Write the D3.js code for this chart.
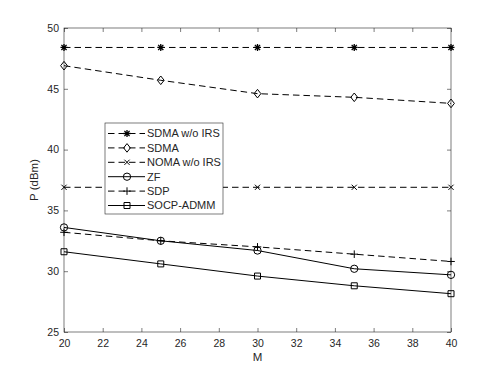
<!DOCTYPE html>
<html>
<head>
<meta charset="utf-8">
<script src="https://cdn.jsdelivr.net/npm/d3@7"></script>
<style>
  body { margin: 0; background: #fff; }
  text { font-family: "Liberation Sans", Arial, sans-serif; fill: #262626; }
</style>
</head>
<body>
<div id="chart"></div>
<script>
// values
const M = [20, 25, 30, 35, 40];
const sdmaNoIrs = [48.4, 48.4, 48.4, 48.4, 48.4];
const sdma = [46.9, 45.7, 44.6, 44.3, 43.8];
const nomaNoIrs = [36.9, 36.9, 36.9, 36.9, 36.9];
const zf = [33.6, 32.5, 31.7, 30.2, 29.7];
const sdp = [33.2, 32.5, 32.0, 31.4, 30.8];
const socpAdmm = [31.6, 30.6, 29.6, 28.8, 28.15];

const seriesNames = ["SDMA w/o IRS", "SDMA", "NOMA w/o IRS", "ZF", "SDP", "SOCP-ADMM"];
const seriesValues = [sdmaNoIrs, sdma, nomaNoIrs, zf, sdp, socpAdmm];
const seriesMarkers = ["asterisk", "diamond", "x", "circle", "plus", "square"];
const seriesDashed = [true, true, true, false, true, false];

const xTicks = [20, 22, 24, 26, 28, 30, 32, 34, 36, 38, 40];
const yTicks = [25, 30, 35, 40, 45, 50];

var width = 498, height = 374;
// plot box (window.top is reserved, so no bare "top")
var plotL = 64, plotR = 451, plotT = 28, plotB = 332;

var svg = d3.select("#chart").append("svg")
  .attr("width", width)
  .attr("height", height);

var x = d3.scaleLinear().domain([20, 40]).range([plotL, plotR]);
var y = d3.scaleLinear().domain([25, 50]).range([plotB, plotT]);

// axes, MATLAB style: ticks inside, box on
function styleAxis(g) {
  g.select(".domain").remove();
  g.selectAll(".tick line").attr("stroke", "#262626").attr("stroke-width", 0.6);
  g.selectAll(".tick text").style("font-size", "10.5px").attr("fill", "#262626");
}

svg.append("g")
  .attr("transform", "translate(0," + plotB + ")")
  .call(d3.axisBottom(x).tickValues(xTicks).tickSize(-4).tickPadding(8))
  .call(styleAxis);
svg.append("g")
  .attr("transform", "translate(0," + plotT + ")")
  .call(d3.axisTop(x).tickValues(xTicks).tickSize(-4).tickFormat(""))
  .call(styleAxis);
svg.append("g")
  .attr("transform", "translate(" + plotL + ",0)")
  .call(d3.axisLeft(y).tickValues(yTicks).tickSize(-4).tickPadding(5))
  .call(styleAxis);
svg.append("g")
  .attr("transform", "translate(" + plotR + ",0)")
  .call(d3.axisRight(y).tickValues(yTicks).tickSize(-4).tickFormat(""))
  .call(styleAxis);

svg.append("rect")
  .attr("x", plotL).attr("y", plotT)
  .attr("width", plotR - plotL).attr("height", plotB - plotT)
  .attr("fill", "none").attr("stroke", "#262626").attr("stroke-width", 0.6);

svg.append("text")
  .attr("x", (plotL + plotR) / 2).attr("y", 361)
  .attr("text-anchor", "middle")
  .style("font-size", "11.5px")
  .text("M");
svg.append("text")
  .attr("transform", "translate(38," + ((plotT + plotB) / 2) + ") rotate(-90)")
  .attr("text-anchor", "middle")
  .style("font-size", "11.5px")
  .text("P (dBm)");

// marker paths centred on 0,0
function markerPath(type) {
  if (type == "circle") return d3.symbol(d3.symbolCircle, 42)();
  if (type == "square") return "M-3,-3H3V3H-3Z";
  if (type == "diamond") return "M0,-4.3L3.4,0L0,4.3L-3.4,0Z";
  if (type == "plus") return "M-3.8,0H3.8M0,-3.8V3.8";
  if (type == "x") return "M-2.6,-2.6L2.6,2.6M-2.6,2.6L2.6,-2.6";
  if (type == "asterisk") return "M-3.5,0H3.5M0,-3.5V3.5M-2.6,-2.6L2.6,2.6M-2.6,2.6L2.6,-2.6";
}

function drawMarker(g, type, cx, cy) {
  g.append("path")
    .attr("d", markerPath(type))
    .attr("transform", "translate(" + cx + "," + cy + ")")
    .attr("fill", "none")
    .attr("stroke", "#000")
    .attr("stroke-width", type == "asterisk" ? 1.3 : 1);
}

var line = d3.line()
  .x(function(d, i) { return x(M[i]); })
  .y(function(d) { return y(d); });

seriesValues.forEach(function(vals, s) {
  var g = svg.append("g");
  g.append("path")
    .attr("d", line(vals))
    .attr("fill", "none")
    .attr("stroke", "#000")
    .attr("stroke-width", 1)
    .attr("stroke-dasharray", seriesDashed[s] ? "6.5,4" : null);
  vals.forEach(function(v, i) {
    drawMarker(g, seriesMarkers[s], x(M[i]), y(v));
  });
});

// legend
var legX = 105, legY = 123, legW = 118, legH = 91, rowH = 14.4;
var leg = svg.append("g");
leg.append("rect")
  .attr("x", legX).attr("y", legY)
  .attr("width", legW).attr("height", legH)
  .attr("fill", "#fff").attr("stroke", "#262626").attr("stroke-width", 0.6);

seriesNames.forEach(function(name, s) {
  var cy = legY + 10.5 + s * rowH;
  leg.append("line")
    .attr("x1", legX + 3).attr("x2", legX + 40)
    .attr("y1", cy).attr("y2", cy)
    .attr("stroke", "#000").attr("stroke-width", 1)
    .attr("stroke-dasharray", seriesDashed[s] ? "6.5,4" : null);
  drawMarker(leg, seriesMarkers[s], legX + 22, cy);
  leg.append("text")
    .attr("x", legX + 42).attr("y", cy)
    .attr("dy", "0.35em")
    .style("font-size", "11px")
    .text(name);
});
</script>
</body>
</html>
